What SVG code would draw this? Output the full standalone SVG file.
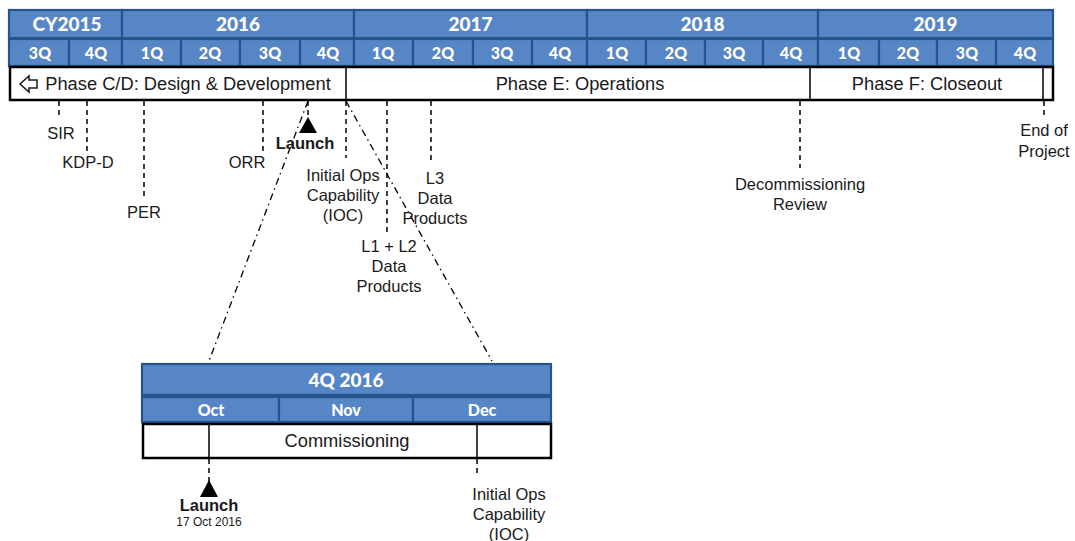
<svg xmlns="http://www.w3.org/2000/svg" width="1075" height="541" viewBox="0 0 1075 541">
  <style>
    .cell { fill: #5686c6; stroke: #24548a; stroke-width: 2.2; }
    .hdr { font-family: Lato, "Open Sans", "Liberation Sans", sans-serif; font-weight: 900; fill: #ffffff; text-anchor: middle; }
    .yr { font-size: 19px; }
    .q { font-size: 16px; }
    .bar { fill: #ffffff; stroke: #000000; stroke-width: 2.5; }
    .div { stroke: #000000; stroke-width: 1.5; }
    .lbl { font-family: "Liberation Sans", Arial, sans-serif; font-size: 16.5px; fill: #1a1a1a; text-anchor: middle; }
    .phase { font-family: "Liberation Sans", Arial, sans-serif; font-size: 18.3px; fill: #1a1a1a; text-anchor: middle; }
    .dash { stroke: #000000; stroke-width: 1.5; stroke-dasharray: 5 4; fill: none; }
    .dashdot { stroke: #000000; stroke-width: 1.3; stroke-dasharray: 7 4 1.5 4; fill: none; }
    .bold { font-weight: bold; }
  </style>

  <!-- main timeline header: years -->
  <g id="years">
    <rect class="cell" x="9" y="10" width="113" height="28"/>
    <rect class="cell" x="122" y="10" width="232" height="28"/>
    <rect class="cell" x="354" y="10" width="233" height="28"/>
    <rect class="cell" x="587" y="10" width="231" height="28"/>
    <rect class="cell" x="818" y="10" width="235" height="28"/>
    <text class="hdr yr" x="67" y="31">CY2015</text>
    <text class="hdr yr" x="238" y="31">2016</text>
    <text class="hdr yr" x="470.5" y="31">2017</text>
    <text class="hdr yr" x="702.5" y="31">2018</text>
    <text class="hdr yr" x="935.5" y="31">2019</text>
  </g>

  <!-- main timeline header: quarters -->
  <g id="quarters">
    <rect class="cell" x="9" y="39" width="60" height="27"/>
    <rect class="cell" x="69" y="39" width="53" height="27"/>
    <rect class="cell" x="122" y="39" width="59" height="27"/>
    <rect class="cell" x="181" y="39" width="59" height="27"/>
    <rect class="cell" x="240" y="39" width="60" height="27"/>
    <rect class="cell" x="300" y="39" width="54" height="27"/>
    <rect class="cell" x="354" y="39" width="59" height="27"/>
    <rect class="cell" x="413" y="39" width="60" height="27"/>
    <rect class="cell" x="473" y="39" width="59" height="27"/>
    <rect class="cell" x="532" y="39" width="55" height="27"/>
    <rect class="cell" x="587" y="39" width="59" height="27"/>
    <rect class="cell" x="646" y="39" width="59" height="27"/>
    <rect class="cell" x="705" y="39" width="58" height="27"/>
    <rect class="cell" x="763" y="39" width="55" height="27"/>
    <rect class="cell" x="818" y="39" width="61" height="27"/>
    <rect class="cell" x="879" y="39" width="58" height="27"/>
    <rect class="cell" x="937" y="39" width="59" height="27"/>
    <rect class="cell" x="996" y="39" width="57" height="27"/>
    <text class="hdr q" x="40" y="58.5">3Q</text>
    <text class="hdr q" x="96" y="58.5">4Q</text>
    <text class="hdr q" x="152" y="58.5">1Q</text>
    <text class="hdr q" x="210" y="58.5">2Q</text>
    <text class="hdr q" x="270" y="58.5">3Q</text>
    <text class="hdr q" x="328" y="58.5">4Q</text>
    <text class="hdr q" x="383" y="58.5">1Q</text>
    <text class="hdr q" x="443" y="58.5">2Q</text>
    <text class="hdr q" x="502" y="58.5">3Q</text>
    <text class="hdr q" x="560" y="58.5">4Q</text>
    <text class="hdr q" x="617" y="58.5">1Q</text>
    <text class="hdr q" x="676" y="58.5">2Q</text>
    <text class="hdr q" x="734" y="58.5">3Q</text>
    <text class="hdr q" x="791" y="58.5">4Q</text>
    <text class="hdr q" x="849" y="58.5">1Q</text>
    <text class="hdr q" x="908" y="58.5">2Q</text>
    <text class="hdr q" x="967" y="58.5">3Q</text>
    <text class="hdr q" x="1025" y="58.5">4Q</text>
  </g>

  <!-- phase bar -->
  <g id="phases">
    <rect class="bar" x="10" y="67" width="1043" height="33"/>
    <line class="div" x1="346" y1="67" x2="346" y2="100"/>
    <line class="div" x1="810" y1="67" x2="810" y2="100"/>
    <line class="div" x1="1043" y1="67" x2="1043" y2="100"/>
    <path d="M20 84 L29 76 L29 80 L37 80 L37 88 L29 88 L29 92 Z" fill="#ffffff" stroke="#1a1a1a" stroke-width="1.5" stroke-linejoin="miter"/>
    <text class="phase" x="188" y="90">Phase C/D: Design &amp; Development</text>
    <text class="phase" x="580" y="90">Phase E: Operations</text>
    <text class="phase" x="927" y="90">Phase F: Closeout</text>
  </g>

  <!-- milestone tick lines -->
  <g id="connectors">
    <line class="dash" x1="59" y1="101" x2="59" y2="117"/>
    <line class="dash" x1="87" y1="101" x2="87" y2="151"/>
    <line class="dash" x1="144" y1="101" x2="144" y2="198"/>
    <line class="dash" x1="263" y1="101" x2="263" y2="153"/>
    <line class="dash" x1="308" y1="101" x2="308" y2="118"/>
    <line class="dash" x1="346" y1="101" x2="346" y2="158"/>
    <line class="dash" x1="387" y1="101" x2="387" y2="236"/>
    <line class="dash" x1="431" y1="101" x2="431" y2="160"/>
    <line class="dash" x1="800" y1="101" x2="800" y2="168"/>
    <line class="dash" x1="1044" y1="101" x2="1044" y2="118"/>
    <!-- zoom projection of 4Q 2016 -->
    <line class="dashdot" x1="308" y1="101" x2="209" y2="361"/>
    <line class="dashdot" x1="346" y1="101" x2="492" y2="361"/>
    <!-- detail ticks -->
    <line class="dash" x1="209" y1="459" x2="209" y2="482"/>
    <line class="dash" x1="477" y1="459" x2="477" y2="476"/>
  </g>

  <!-- milestones on main timeline -->
  <g id="sir"><text class="lbl" x="61" y="139">SIR</text></g>
  <g id="kdpd"><text class="lbl" x="88" y="168">KDP-D</text></g>
  <g id="per"><text class="lbl" x="144" y="218">PER</text></g>
  <g id="orr"><text class="lbl" x="247" y="168">ORR</text></g>
  <g id="launch">
    <polygon points="308,117 299,133 317,133" fill="#000000"/>
    <text class="lbl bold" x="305" y="149">Launch</text>
  </g>
  <g id="ioc">
    <text class="lbl" x="343" y="181">Initial Ops</text>
    <text class="lbl" x="343" y="201">Capability</text>
    <text class="lbl" x="343" y="221">(IOC)</text>
  </g>
  <g id="l1l2">
    <text class="lbl" x="389" y="252">L1 + L2</text>
    <text class="lbl" x="389" y="272">Data</text>
    <text class="lbl" x="389" y="292">Products</text>
  </g>
  <g id="l3">
    <text class="lbl" x="435" y="184">L3</text>
    <text class="lbl" x="435" y="204">Data</text>
    <text class="lbl" x="435" y="224">Products</text>
  </g>
  <g id="decom">
    <text class="lbl" x="800" y="190">Decommissioning</text>
    <text class="lbl" x="800" y="210">Review</text>
  </g>
  <g id="end">
    <text class="lbl" x="1044" y="136">End of</text>
    <text class="lbl" x="1044" y="157">Project</text>
  </g>

  <!-- 4Q 2016 detail -->
  <g id="detail-header">
    <rect class="cell" x="142" y="364" width="409" height="31"/>
    <rect class="cell" x="142" y="397" width="137" height="25"/>
    <rect class="cell" x="279" y="397" width="134" height="25"/>
    <rect class="cell" x="413" y="397" width="138" height="25"/>
    <text class="hdr yr" x="346" y="387">4Q 2016</text>
    <text class="hdr q" x="211" y="415.5">Oct</text>
    <text class="hdr q" x="346" y="415.5">Nov</text>
    <text class="hdr q" x="482" y="415.5">Dec</text>
  </g>
  <g id="commissioning">
    <rect class="bar" x="143" y="424" width="408" height="34"/>
    <line class="div" x1="209" y1="424" x2="209" y2="458"/>
    <line class="div" x1="477" y1="424" x2="477" y2="458"/>
    <text class="phase" x="347" y="447">Commissioning</text>
  </g>
  <g id="detail-launch">
    <polygon points="209,480 200,497 218,497" fill="#000000"/>
    <text class="lbl bold" x="209" y="511">Launch</text>
    <text class="lbl" x="209" y="526" style="font-size:12px">17 Oct 2016</text>
  </g>
  <g id="detail-ioc">
    <text class="lbl" x="509" y="500">Initial Ops</text>
    <text class="lbl" x="509" y="520">Capability</text>
    <text class="lbl" x="509" y="540">(IOC)</text>
  </g>
</svg>
